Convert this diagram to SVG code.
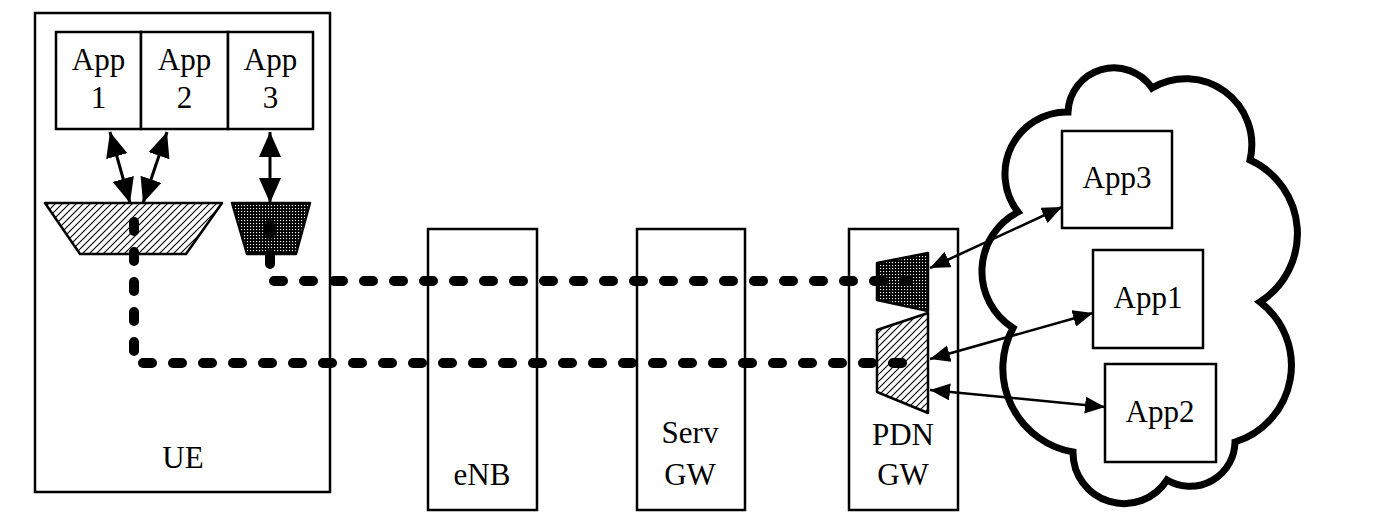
<svg xmlns="http://www.w3.org/2000/svg" width="1380" height="521" viewBox="0 0 1380 521">
<style>
.box{fill:#fff;stroke:#000;stroke-width:2.5}
.lbl{font-family:"Liberation Serif","DejaVu Serif",serif;font-size:31px;fill:#000;text-anchor:middle}
.tun{fill:none;stroke:#000;stroke-width:10;stroke-linecap:round;stroke-linejoin:round;stroke-dasharray:9 21}
.arr{fill:none;stroke:#000;stroke-width:3;marker-start:url(#bigH);marker-end:url(#bigH)}
.arr2{fill:none;stroke:#000;stroke-width:2.5;marker-start:url(#smH);marker-end:url(#smH)}
.hatch{fill:url(#hatch);stroke:#000;stroke-width:2.5;stroke-linejoin:round}
.dots{fill:url(#dots);stroke:#000;stroke-width:2.5;stroke-linejoin:round}
</style>
<defs>
<pattern id="hatch" patternUnits="userSpaceOnUse" width="7" height="7">
<rect width="7" height="7" fill="#fff"/>
<path d="M-1,8 L8,-1 M-1,1 L1,-1 M6,8 L8,6" stroke="#000" stroke-width="1.1"/>
</pattern>
<pattern id="dots" patternUnits="userSpaceOnUse" width="3" height="3">
<rect width="3" height="3" fill="#000"/>
<rect x="1" y="1" width="1.1" height="1.1" fill="#fff"/>
</pattern>
<marker id="bigH" viewBox="0 0 10 10" refX="10" refY="5" markerWidth="25" markerHeight="22" markerUnits="userSpaceOnUse" orient="auto-start-reverse" preserveAspectRatio="none">
<path d="M0,0 L10,5 L0,10 Z" fill="#000"/>
</marker>
<marker id="smH" viewBox="0 0 10 10" refX="10" refY="5" markerWidth="20" markerHeight="17" markerUnits="userSpaceOnUse" orient="auto-start-reverse" preserveAspectRatio="none">
<path d="M0,0 L10,5 L0,10 Z" fill="#000"/>
</marker>
</defs>
<rect width="1380" height="521" fill="#fff"/>

<g id="cloud">
<path d="M1068,112 A46,46 0 0 1 1152,88 A66,66 0 0 1 1250,160 A81,81 0 0 1 1260,302 A80,80 0 0 1 1235,442 A45,45 0 0 1 1167,480 A51,51 0 0 1 1073,452 A85,85 0 0 1 1013,328 A67,67 0 0 1 1018,212 A62,62 0 0 1 1068,112 Z" fill="#fff" stroke="#000" stroke-width="7" stroke-linejoin="miter"/>
</g>

<g id="ue">
<rect class="box" x="35" y="13" width="295" height="479"/>
<text class="lbl" x="183" y="468">UE</text>
</g>
<g id="ue-app1">
<rect class="box" x="56" y="32" width="85" height="97"/>
<text class="lbl" x="98.5" y="70">App</text>
<text class="lbl" x="98.5" y="108">1</text>
</g>
<g id="ue-app2">
<rect class="box" x="141" y="32" width="87" height="97"/>
<text class="lbl" x="184.5" y="70">App</text>
<text class="lbl" x="184.5" y="108">2</text>
</g>
<g id="ue-app3">
<rect class="box" x="228" y="32" width="85" height="97"/>
<text class="lbl" x="270.5" y="70">App</text>
<text class="lbl" x="270.5" y="108">3</text>
</g>
<g id="ue-filter-hatched">
<polygon class="hatch" points="45,203 222,203 186,254 80,254"/>
</g>
<g id="ue-filter-dotted">
<polygon class="dots" points="232,203 310,203 296,254 247,254"/>
</g>

<g id="enb">
<rect class="box" x="428" y="229" width="109" height="281"/>
<text class="lbl" x="482" y="485">eNB</text>
</g>
<g id="sgw">
<rect class="box" x="637" y="229" width="108" height="281"/>
<text class="lbl" x="690" y="443">Serv</text>
<text class="lbl" x="690" y="485">GW</text>
</g>
<g id="pgw">
<rect class="box" x="849" y="229" width="109" height="281"/>
<text class="lbl" x="903" y="445">PDN</text>
<text class="lbl" x="903" y="485">GW</text>
</g>
<g id="pgw-filter-dotted">
<polygon class="dots" points="877,263 928,253 928,311 877,300"/>
</g>
<g id="pgw-filter-hatched">
<polygon class="hatch" points="877,330 928,313 928,413 877,392"/>
</g>

<g id="srv-app3">
<rect class="box" x="1062" y="131" width="110" height="97"/>
<text class="lbl" x="1117" y="188">App3</text>
</g>
<g id="srv-app1">
<rect class="box" x="1093" y="250" width="110" height="98"/>
<text class="lbl" x="1148" y="308">App1</text>
</g>
<g id="srv-app2">
<rect class="box" x="1105" y="364" width="111" height="98"/>
<text class="lbl" x="1160" y="422">App2</text>
</g>

<g id="connectors">
<path class="tun" d="M270,225 V281 H908"/>
<path class="tun" d="M134,222 V363 H904"/>
<line class="arr" x1="110" y1="132" x2="130" y2="203"/>
<line class="arr" x1="167" y1="132" x2="143" y2="203"/>
<line class="arr" x1="270" y1="132" x2="270" y2="203"/>
<line class="arr2" x1="930" y1="268" x2="1062" y2="207"/>
<line class="arr2" x1="930" y1="359" x2="1093" y2="313"/>
<line class="arr2" x1="930" y1="390" x2="1105" y2="407"/>
</g>
</svg>
